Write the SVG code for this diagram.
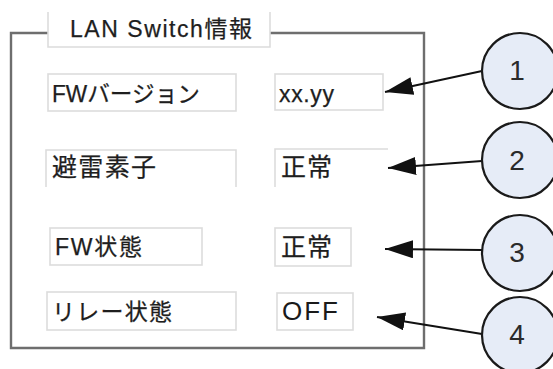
<svg xmlns="http://www.w3.org/2000/svg" width="553" height="369" viewBox="0 0 553 369">
  <defs>
    <style>
      .frame { fill: none; stroke: #6e6e6e; stroke-width: 2.4; }
      .box { fill: none; stroke: #dcdcdc; stroke-width: 1.6; }
      .lbl { font-family: "Liberation Sans", "Noto Sans CJK JP", sans-serif; fill: #1e1e1e; stroke: #1e1e1e; stroke-width: 0.25; }
      .thin { stroke: none; fill: #1a1a1a; }
      .num { font-family: "Liberation Sans", sans-serif; font-size: 28px; fill: #2a2a2a; text-anchor: middle; }
      .circ { fill: #e6ecf7; stroke: #1a1a1a; stroke-width: 2.2; }
      .arr { stroke: #111; stroke-width: 2; fill: none; marker-end: url(#ah); }
    </style>
    <marker id="ah" markerUnits="userSpaceOnUse" viewBox="0 0 28 18" refX="28" refY="9" markerWidth="28" markerHeight="18" orient="auto">
      <path d="M0,0 L28,9 L0,18 z" fill="#111"/>
    </marker>
  </defs>
  <rect width="553" height="369" fill="#ffffff"/>

  <g id="frame">
    <path class="frame" d="M48,33 L11,33 L11,348 L424,348 L424,33 L270,33"/>
    <path class="box" d="M48,12 L48,47 L270,47 L270,12"/>
    <text class="lbl" x="70" y="37" font-size="23" textLength="182">LAN Switch情報</text>
  </g>

  <g id="row1-label">
    <rect class="box" x="48" y="74" width="188" height="37"/>
    <text class="lbl" x="52" y="102" font-size="23" textLength="148" lengthAdjust="spacingAndGlyphs">FWバージョン</text>
  </g>
  <g id="row1-value">
    <rect class="box" x="275" y="74" width="108" height="36"/>
    <text class="lbl" x="279" y="102" font-size="23" textLength="55">xx.yy</text>
  </g>

  <g id="row2-label">
    <path class="box" d="M46,187 L46,150 L236,150 L236,187"/>
    <text class="lbl" x="52" y="176" font-size="25" textLength="104">避雷素子</text>
  </g>
  <g id="row2-value">
    <path class="box" d="M275,187 L275,149 L388,149"/>
    <text class="lbl" x="281" y="176" font-size="25" textLength="51">正常</text>
  </g>

  <g id="row3-label">
    <rect class="box" x="50" y="228" width="152" height="37"/>
    <text class="lbl" x="55" y="255" font-size="23" textLength="87">FW状態</text>
  </g>
  <g id="row3-value">
    <rect class="box" x="275" y="228" width="76" height="38"/>
    <text class="lbl" x="281" y="256" font-size="25" textLength="51">正常</text>
  </g>

  <g id="row4-label">
    <rect class="box" x="47" y="292" width="189" height="38"/>
    <text class="lbl" x="52" y="320" font-size="23" textLength="120">リレー状態</text>
  </g>
  <g id="row4-value">
    <rect class="box" x="277" y="293" width="76" height="37"/>
    <text class="lbl thin" x="282" y="320" font-size="26" textLength="56">OFF</text>
  </g>

  <g id="connectors">
    <line class="arr" x1="482" y1="71" x2="385" y2="92"/>
    <line class="arr" x1="482" y1="161" x2="388" y2="168"/>
    <line class="arr" x1="482" y1="250" x2="385" y2="249"/>
    <line class="arr" x1="482" y1="334" x2="377" y2="317"/>
  </g>

  <g id="callout1">
    <circle class="circ" cx="520" cy="71" r="38"/>
    <text class="num" x="517" y="80">1</text>
  </g>
  <g id="callout2">
    <circle class="circ" cx="520" cy="160" r="38"/>
    <text class="num" x="517" y="170">2</text>
  </g>
  <g id="callout3">
    <circle class="circ" cx="520" cy="253" r="38"/>
    <text class="num" x="517" y="262">3</text>
  </g>
  <g id="callout4">
    <circle class="circ" cx="520" cy="335" r="38"/>
    <text class="num" x="517" y="344">4</text>
  </g>
</svg>
